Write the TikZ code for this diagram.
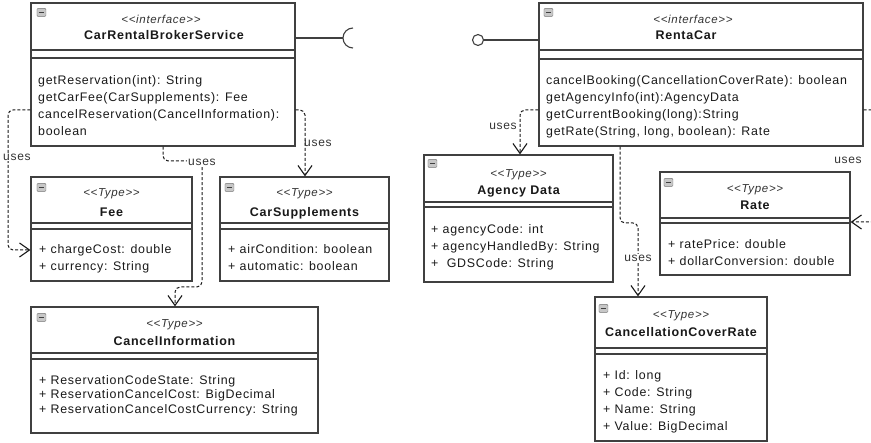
\documentclass[tikz,border=0pt]{standalone}
\usepackage{fontspec}
\newfontfamily\umlfont[LetterSpace=6]{Liberation Sans}
\usetikzlibrary{positioning,fit,arrows.meta}
\newcommand\umlst[1]{\textless\textless#1\textgreater\textgreater}

\begin{document}
\begin{tikzpicture}[x=1pt, y=-1pt,
    umlbox/.style={draw=black!75, line width=1.1pt, fill=white, inner sep=0pt},
    divider/.style={draw=black!75, line width=1.1pt},
    icon/.style={draw=black!55, fill=black!22, rounded corners=1pt, minimum width=9pt, minimum height=8pt, inner sep=0pt,
        path picture={\draw[black!75, line width=0.9pt] ([xshift=2pt]path picture bounding box.west) -- ([xshift=-2pt]path picture bounding box.east);}},
    stereo/.style={anchor=base, inner sep=0pt, font=\umlfont\itshape\fontsize{11.5}{13}\selectfont, text=black!80},
    title/.style={anchor=base, inner sep=0pt, font=\umlfont\bfseries\fontsize{12.5}{15}\selectfont, text=black!90},
    members/.style={anchor=north west, align=left, inner sep=0pt, font=\umlfont\fontsize{12.4}{17}\selectfont, text=black!90,
        execute at begin node={\rule{0pt}{10pt}}},
    uses/.style={draw=black!90, line width=1pt, dash pattern=on 3pt off 2pt, rounded corners=5pt,
        -{Straight Barb[length=10pt, width=14pt, line width=1.1pt]}},
    lbl/.style={inner sep=1pt, font=\umlfont\fontsize{12}{14}\selectfont, text=black!80}
]
    \useasboundingbox (0,0) rectangle (871,443);
    \clip (0,0) rectangle (871,443);

    % class boxes
    \node[umlbox, fit={(31,3) (295,146)}] (broker) {};
    \node[umlbox, fit={(539,3) (863,146)}] (rent) {};
    \node[umlbox, fit={(31,177) (192,281)}] (fee) {};
    \node[umlbox, fit={(220,177) (389,281)}] (supp) {};
    \node[umlbox, fit={(31,307) (318,433)}] (cancel) {};
    \node[umlbox, fit={(424,155) (613,282)}] (agency) {};
    \node[umlbox, fit={(660,172) (850,275)}] (rate) {};
    \node[umlbox, fit={(595,297) (767,441)}] (ccr) {};

    % compartments
    \draw[divider] (broker.west |- 0,50) -- (broker.east |- 0,50);
    \draw[divider] (broker.west |- 0,58) -- (broker.east |- 0,58);
    \draw[divider] (rent.west |- 0,50) -- (rent.east |- 0,50);
    \draw[divider] (rent.west |- 0,59) -- (rent.east |- 0,59);
    \draw[divider] (fee.west |- 0,223) -- (fee.east |- 0,223);
    \draw[divider] (fee.west |- 0,229) -- (fee.east |- 0,229);
    \draw[divider] (supp.west |- 0,223) -- (supp.east |- 0,223);
    \draw[divider] (supp.west |- 0,229) -- (supp.east |- 0,229);
    \draw[divider] (cancel.west |- 0,353) -- (cancel.east |- 0,353);
    \draw[divider] (cancel.west |- 0,359) -- (cancel.east |- 0,359);
    \draw[divider] (agency.west |- 0,202) -- (agency.east |- 0,202);
    \draw[divider] (agency.west |- 0,207) -- (agency.east |- 0,207);
    \draw[divider] (rate.west |- 0,218) -- (rate.east |- 0,218);
    \draw[divider] (rate.west |- 0,223) -- (rate.east |- 0,223);
    \draw[divider] (ccr.west |- 0,348) -- (ccr.east |- 0,348);
    \draw[divider] (ccr.west |- 0,354) -- (ccr.east |- 0,354);

    % collapse icons
    \node[icon] (broker-ic) at ([xshift=11pt,yshift=-10pt]broker.north west) {};
    \node[icon] (rent-ic) at ([xshift=10pt,yshift=-10pt]rent.north west) {};
    \node[icon] (fee-ic) at ([xshift=11pt,yshift=-11pt]fee.north west) {};
    \node[icon] (supp-ic) at ([xshift=10pt,yshift=-11pt]supp.north west) {};
    \node[icon] (cancel-ic) at ([xshift=11pt,yshift=-11pt]cancel.north west) {};
    \node[icon] (agency-ic) at ([xshift=9pt,yshift=-9pt]agency.north west) {};
    \node[icon] (rate-ic) at ([xshift=9pt,yshift=-11pt]rate.north west) {};
    \node[icon] (ccr-ic) at ([xshift=9pt,yshift=-12pt]ccr.north west) {};

    % headers
    \node[stereo] (broker-st) at (161,24) {\umlst{interface}};
    \node[title] (broker-nm) at (164,40) {CarRentalBrokerService};
    \node[stereo] (rent-st) at (693,24) {\umlst{interface}};
    \node[title] (rent-nm) at (686,40) {RentaCar};
    \node[stereo] (fee-st) at (fee.north |- 0,197) {\umlst{Type}};
    \node[title] (fee-nm) at (fee.north |- 0,217) {Fee};
    \node[stereo] (supp-st) at (supp.north |- 0,197) {\umlst{Type}};
    \node[title] (supp-nm) at (supp.north |- 0,217) {CarSupplements};
    \node[stereo] (cancel-st) at (cancel.north |- 0,328) {\umlst{Type}};
    \node[title] (cancel-nm) at (cancel.north |- 0,346) {CancelInformation};
    \node[stereo] (agency-st) at (agency.north |- 0,178) {\umlst{Type}};
    \node[title] (agency-nm) at (agency.north |- 0,195) {Agency Data};
    \node[stereo] (rate-st) at (rate.north |- 0,193) {\umlst{Type}};
    \node[title] (rate-nm) at (rate.north |- 0,210) {Rate};
    \node[stereo] (ccr-st) at (ccr.north |- 0,319) {\umlst{Type}};
    \node[title] (ccr-nm) at (ccr.north |- 0,337) {CancellationCoverRate};

    % operations and attributes
    \node[members] (broker-op) at (38,75) {getReservation(int): String\\getCarFee(CarSupplements): Fee\\cancelReservation(CancelInformation):\\boolean};
    \node[members] (rent-op) at (546,75) {cancelBooking(CancellationCoverRate): boolean\\getAgencyInfo(int):AgencyData\\getCurrentBooking(long):String\\getRate(String, long, boolean): Rate};
    \node[members] (fee-at) at (39,244) {+ chargeCost: double\\+ currency: String};
    \node[members] (supp-at) at (228,244) {+ airCondition: boolean\\+ automatic: boolean};
    \node[members, font=\umlfont\fontsize{12.4}{14.5}\selectfont] (cancel-at) at (39,375) {+ ReservationCodeState: String\\+ ReservationCancelCost: BigDecimal\\+ ReservationCancelCostCurrency: String};
    \node[members] (agency-at) at (431,224) {+ agencyCode: int\\+ agencyHandledBy: String\\+ \ GDSCode: String};
    \node[members] (rate-at) at (668,239) {+ ratePrice: double\\+ dollarConversion: double};
    \node[members] (ccr-at) at (603,370) {+ Id: long\\+ Code: String\\+ Name: String\\+ Value: BigDecimal};

    % provided and required interfaces
    \coordinate (sock) at (353,38);
    \draw[divider] (broker.east |- sock) -- ([xshift=-10pt]sock);
    \draw[divider] ([yshift=10pt]sock) arc[start angle=90, end angle=270, radius=10pt];
    \node[circle, draw=black!75, line width=1.1pt, fill=white, minimum size=11pt, inner sep=0pt] (ball) at (478,40) {};
    \draw[divider] (ball) -- (rent.west |- ball);

    % dependencies
    \draw[uses] (broker.west |- 0,110) -| (8,250) -- (fee.west |- 0,250);
    \draw[uses] (broker.south -| 163,0) |- (202,161) |- (175,287) -- (cancel.north -| 175,0);
    \draw[uses] (broker.east |- 0,110) -| (supp.north -| 305,0);
    \draw[uses] (rent.west |- 0,110) -| (agency.north -| 520,0);
    \draw[uses] (rent.south -| 620,0) |- (638,223) -- (ccr.north -| 638,0);
    \draw[uses] (rent.east |- 0,110) -| (885,222) -- (rate.east |- 0,222);

    \node[lbl, fill=white] (uses-fee) at (17,157) {uses};
    \node[lbl, fill=white] (uses-cancel) at (202,162) {uses};
    \node[lbl] (uses-supp) at (318,143) {uses};
    \node[lbl] (uses-agency) at (503,126) {uses};
    \node[lbl, fill=white] (uses-ccr) at (638,258) {uses};
    \node[lbl] (uses-rate) at (848,160) {uses};
\end{tikzpicture}
\end{document}
